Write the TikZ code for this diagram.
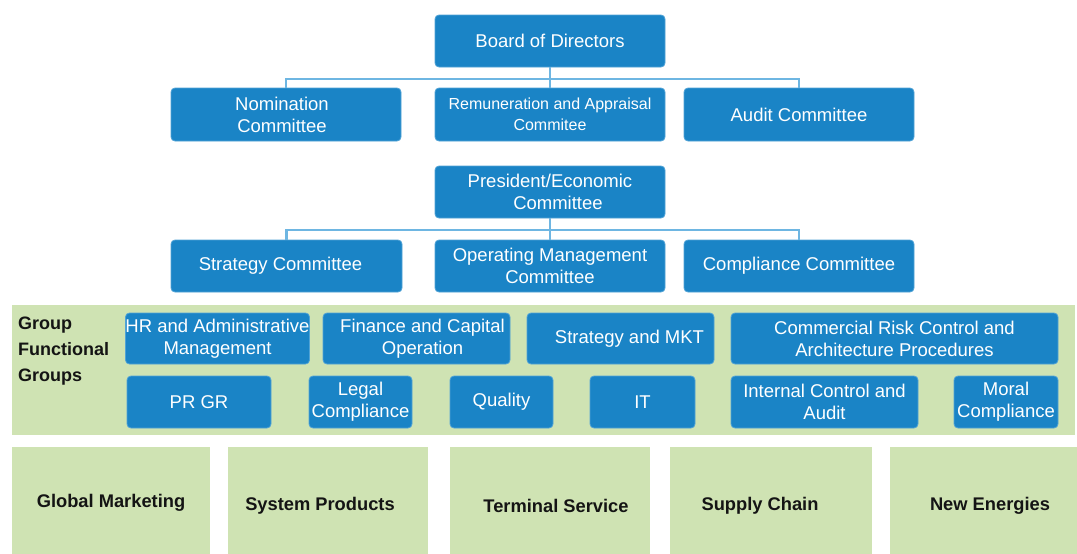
\documentclass[tikz,border=0pt]{standalone}
\usepackage{fontspec}
\setmainfont{Liberation Sans}
\definecolor{boxblue}{RGB}{26,132,198}
\definecolor{boxedge}{RGB}{80,163,214}
\definecolor{connblue}{RGB}{110,182,226}
\definecolor{bandgreen}{RGB}{207,227,179}
\definecolor{darktext}{RGB}{20,20,20}
\tikzset{
  bluebox/.style={rectangle, rounded corners=4pt, fill=boxblue, draw=boxedge, line width=0.8pt,
    text=white, font=\fontsize{18.5}{22}\selectfont, align=center, inner sep=0pt},
  smalltext/.style={font=\fontsize{16}{21}\selectfont},
  conn/.style={draw=connblue, line width=2.4pt},
  greenbox/.style={rectangle, fill=bandgreen, draw=none, inner sep=0pt},
  bottomlabel/.style={font=\fontsize{18.3}{22}\selectfont\bfseries, text=darktext, inner sep=0pt},
  grouplabel/.style={font=\fontsize{18}{26}\selectfont\bfseries, text=darktext, align=left, inner sep=0pt}
}
\begin{document}
\begin{tikzpicture}[x=1pt,y=-1pt]
\useasboundingbox (0,0) rectangle (1077,554);
\fill[white] (0,0) rectangle (1077,554);

% top block
\node[bluebox, minimum width=230pt, minimum height=52pt] (board) at (550,41) {Board of Directors};
\node[bluebox, minimum width=230pt, minimum height=53pt] (nom) at (286,114.5) {\hspace*{-8pt}Nomination\\\hspace*{-8pt}Committee};
\node[bluebox, minimum width=230pt, minimum height=53pt, smalltext] (rem) at (550,114.5) {Remuneration and Appraisal\\Commitee};
\node[bluebox, minimum width=230pt, minimum height=53pt] (aud) at (799,114.5) {\raisebox{-1pt}{Audit Committee}};
\coordinate (j1) at (550,79);
\draw[conn] (nom.north) |- (j1) -| (aud.north);
\draw[conn] (board.south) -- (rem.north);

% president block
\node[bluebox, minimum width=230pt, minimum height=52pt] (pres) at (550,192) {President/Economic\\\hspace*{16pt}Committee};
\node[bluebox, minimum width=231pt, minimum height=52pt] (strat) at (286.5,266) {\raisebox{-2pt}{\hspace*{-12pt}Strategy Committee}};
\node[bluebox, minimum width=230pt, minimum height=52pt] (oper) at (550,266) {Operating Management\\Committee};
\node[bluebox, minimum width=230pt, minimum height=52pt] (comp) at (799,266) {\raisebox{-2pt}{Compliance Committee}};
\coordinate (j2) at (550,230);
\draw[conn] (strat.north) |- (j2) -| (comp.north);
\draw[conn] (pres.south) -- (oper.north);

% functional groups band
\node[greenbox, minimum width=1063pt, minimum height=130pt] (band) at (543.5,370) {};
\node[grouplabel, anchor=north west] (glabel) at (18,317) {Group\\Functional\\Groups};

\node[bluebox, minimum width=181pt, minimum height=51pt] (hr) at (217.5,338.5) {HR and Administrative\\Management};
\node[bluebox, minimum width=187pt, minimum height=51pt] (fin) at (416.5,338.5) {\hspace*{12pt}Finance and Capital\\\hspace*{12pt}Operation};
\node[bluebox, minimum width=187pt, minimum height=51pt] (mkt) at (620.5,338.5) {\hspace*{18pt}Strategy and MKT};
\node[bluebox, minimum width=327pt, minimum height=51pt] (crc) at (894.5,338.5) {Commercial Risk Control and\\Architecture Procedures};

\node[bluebox, minimum width=144pt, minimum height=52pt] (pr) at (199,402) {PR GR};
\node[bluebox, minimum width=103pt, minimum height=52pt] (legal) at (360.5,402) {Legal\\Compliance};
\node[bluebox, minimum width=103pt, minimum height=52pt] (qual) at (501.5,402) {\raisebox{-2pt}{Quality}};
\node[bluebox, minimum width=105pt, minimum height=52pt] (it) at (642.5,402) {IT};
\node[bluebox, minimum width=187pt, minimum height=52pt] (ica) at (824.5,402) {Internal Control and\\Audit};
\node[bluebox, minimum width=104pt, minimum height=52pt] (moral) at (1006,402) {Moral\\Compliance};

% bottom business groups
\node[greenbox, minimum width=198pt, minimum height=107pt] (b1) at (111,500.5) {};
\node[greenbox, minimum width=200pt, minimum height=107pt] (b2) at (328,500.5) {};
\node[greenbox, minimum width=200pt, minimum height=107pt] (b3) at (550,500.5) {};
\node[greenbox, minimum width=202pt, minimum height=107pt] (b4) at (771,500.5) {};
\node[greenbox, minimum width=187pt, minimum height=107pt] (b5) at (983.5,500.5) {};
\node[bottomlabel] (t1) at (111,503) {Global Marketing};
\node[bottomlabel] (t2) at (320,506) {System Products};
\node[bottomlabel] (t3) at (556,506) {Terminal Service};
\node[bottomlabel] (t4) at (760,506) {Supply Chain};
\node[bottomlabel] (t5) at (990,506) {New Energies};
\end{tikzpicture}
\end{document}
